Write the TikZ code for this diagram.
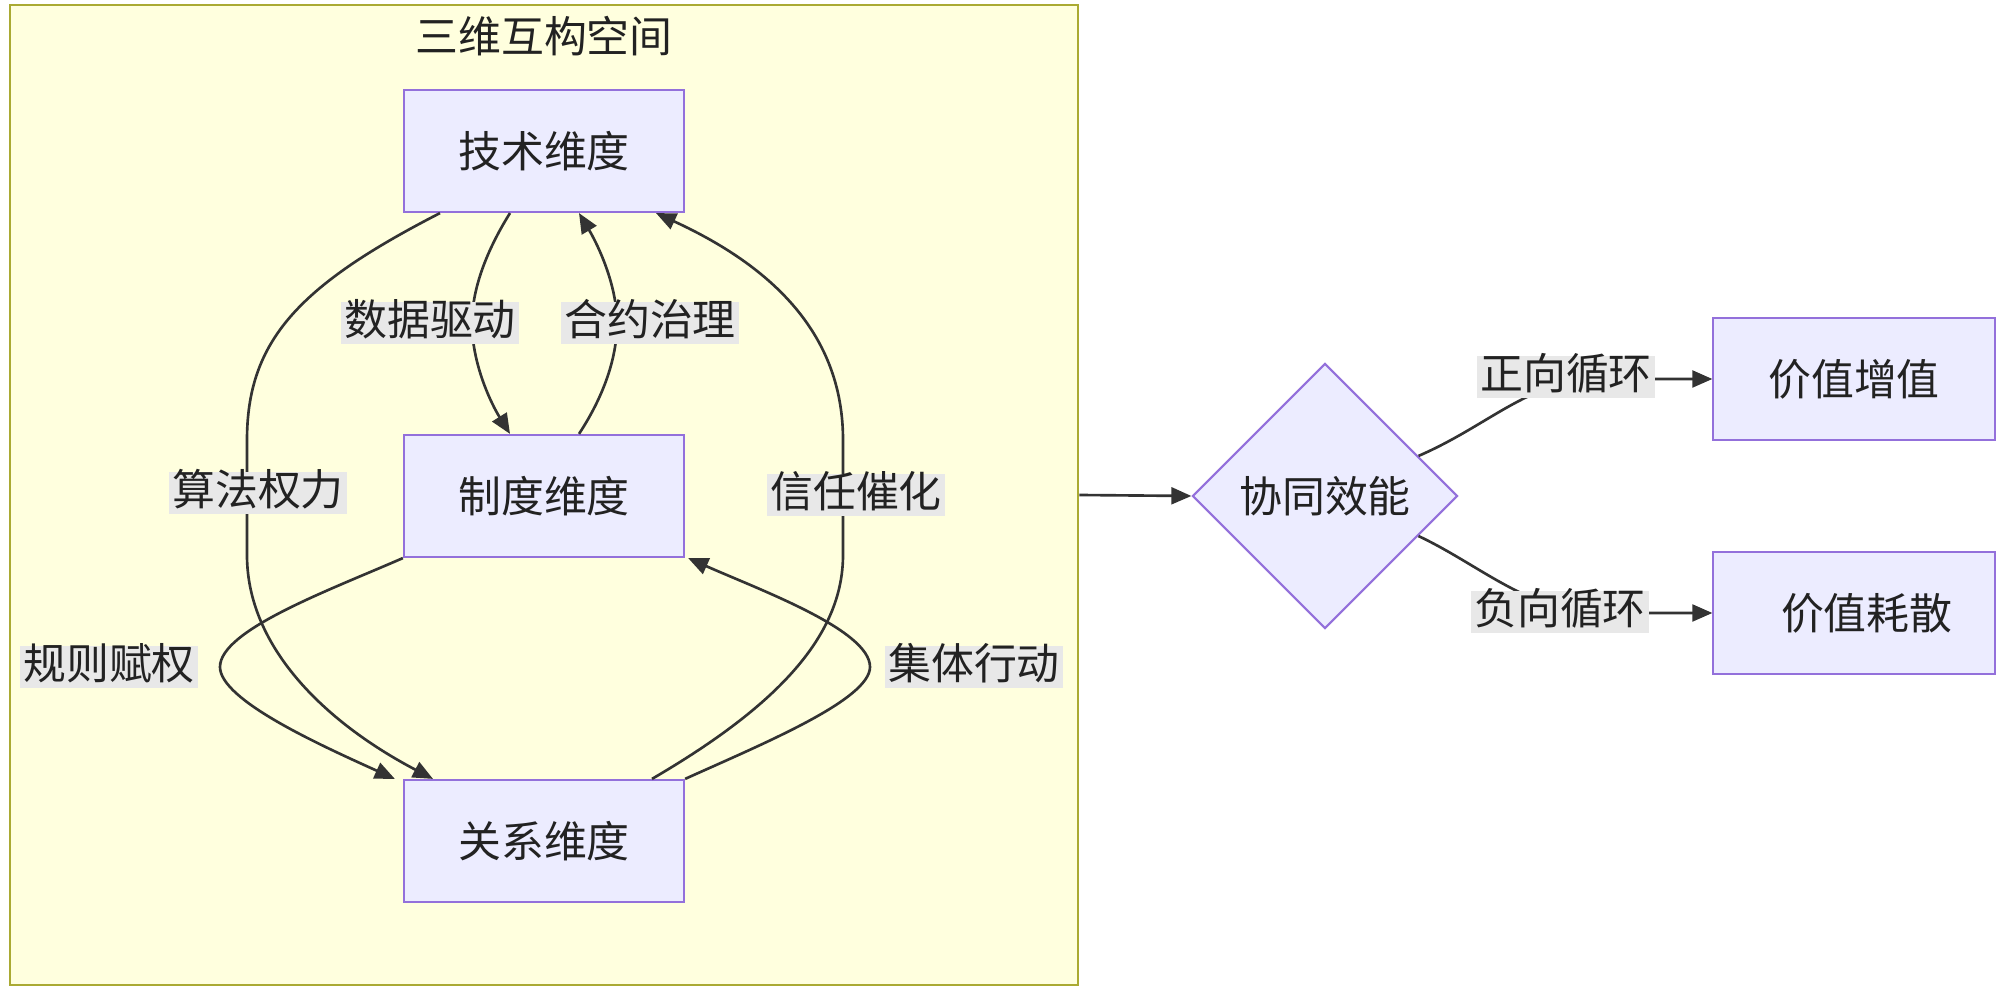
\documentclass[tikz,border=0pt]{standalone}
\usepackage{fontspec}
\newfontfamily\cjk{Noto Sans CJK SC}
\usetikzlibrary{arrows.meta,shapes.geometric,calc}
\definecolor{boxfill}{HTML}{ECECFF}
\definecolor{boxline}{HTML}{9370DB}
\definecolor{clfill}{HTML}{FFFFDE}
\definecolor{clline}{HTML}{AAAA33}
\definecolor{edgec}{HTML}{333333}
\definecolor{lblbg}{HTML}{E8E8E8}
\definecolor{txt}{HTML}{222222}
\tikzset{
  dimbox/.style={draw=boxline, fill=boxfill, line width=0.6pt, minimum width=2.8cm, minimum height=1.22cm, inner sep=0pt, text=txt},
  diam/.style={diamond, draw=boxline, fill=boxfill, line width=0.6pt, minimum width=2.65cm, minimum height=2.65cm, inner sep=0pt, text=txt},
  lbl/.style={fill=lblbg, inner xsep=1pt, inner ysep=0.6pt, text height=0.9em, text depth=0.2em, text=txt},
  flow/.style={draw=edgec, line width=0.75pt, -{Triangle[length=5.7pt,width=4.8pt]}},
  spacebox/.style={draw=clline, fill=clfill, line width=0.6pt, minimum width=10.68cm, minimum height=9.8cm, inner sep=0pt},
  ttl/.style={text=txt}
}
\begin{document}
\begin{tikzpicture}[x=0.01cm, y=-0.01cm, font=\cjk\fontsize{12.2pt}{14pt}\selectfont]
\useasboundingbox (0,0) rectangle (2000,995);
\fill[white] (0,0) rectangle (2000,995);
% cluster
\node[spacebox] (space) at (544,495) {};
\node[ttl] (title) at (544,36) {三维互构空间};
% nodes
\node[dimbox] (tech) at (544,151) {技术维度};
\node[dimbox] (inst) at (544,496) {制度维度};
\node[dimbox] (rel) at (544,841) {关系维度};
\node[diam] (syn) at (1325,496) {协同效能};
\node[dimbox, minimum width=2.81cm] (up) at (1854,379) {价值增值};
\node[dimbox, minimum width=2.81cm] (down) at (1854,613) {\hspace{0.6em}价值耗散};
% edges inside cluster
\draw[flow] ($(tech.south)+(-34,0)$) .. controls (490,245) and (472,285) .. (472,323)
  .. controls (472,365) and (492,405) .. ($(inst.north)+(-34,0)$);
\draw[flow] ($(inst.north)+(35,0)$) .. controls (598,405) and (617,365) .. (617,323)
  .. controls (617,285) and (598,245) .. ($(tech.south)+(35,0)$);
\draw[flow] ($(tech.south)+(-104,0)$) .. controls (300,285) and (247,340) .. (247,440)
  -- (247,555) .. controls (247,650) and (330,725) .. ($(rel.north)+(-111,0)$);
\draw[flow] ($(rel.north)+(108,0)$) .. controls (770,710) and (843,640) .. (843,555)
  -- (843,440) .. controls (843,340) and (780,270) .. ($(tech.south)+(112,0)$);
\draw[flow] (inst.south west) .. controls (330,590) and (220,630) .. (220,667)
  .. controls (220,700) and (320,745) .. ($(rel.north west)+(-8,0)$);
\draw[flow] (rel.north east) .. controls (760,745) and (870,700) .. (870,667)
  .. controls (870,630) and (760,590) .. ($(inst.south east)+(3,0)$);
% edges outside
\draw[flow] (space.east) -- (syn.west);
\draw[flow] ($(syn.east)!0.3!(syn.north)$) .. controls (1490,425) and (1530,379) .. (1600,379) -- (up.west);
\draw[flow] ($(syn.east)!0.3!(syn.south)$) .. controls (1480,565) and (1530,613) .. (1600,613) -- (down.west);
% labels
\node[lbl] (l1) at (430,323) {数据驱动};
\node[lbl] (l2) at (650,323) {合约治理};
\node[lbl] (l3) at (258,493) {算法权力};
\node[lbl] (l4) at (856,495) {信任催化};
\node[lbl] (l5) at (109,667) {规则赋权};
\node[lbl] (l6) at (974,667) {集体行动};
\node[lbl] (l7) at (1566,377) {正向循环};
\node[lbl] (l8) at (1560,612) {负向循环};
\end{tikzpicture}
\end{document}
